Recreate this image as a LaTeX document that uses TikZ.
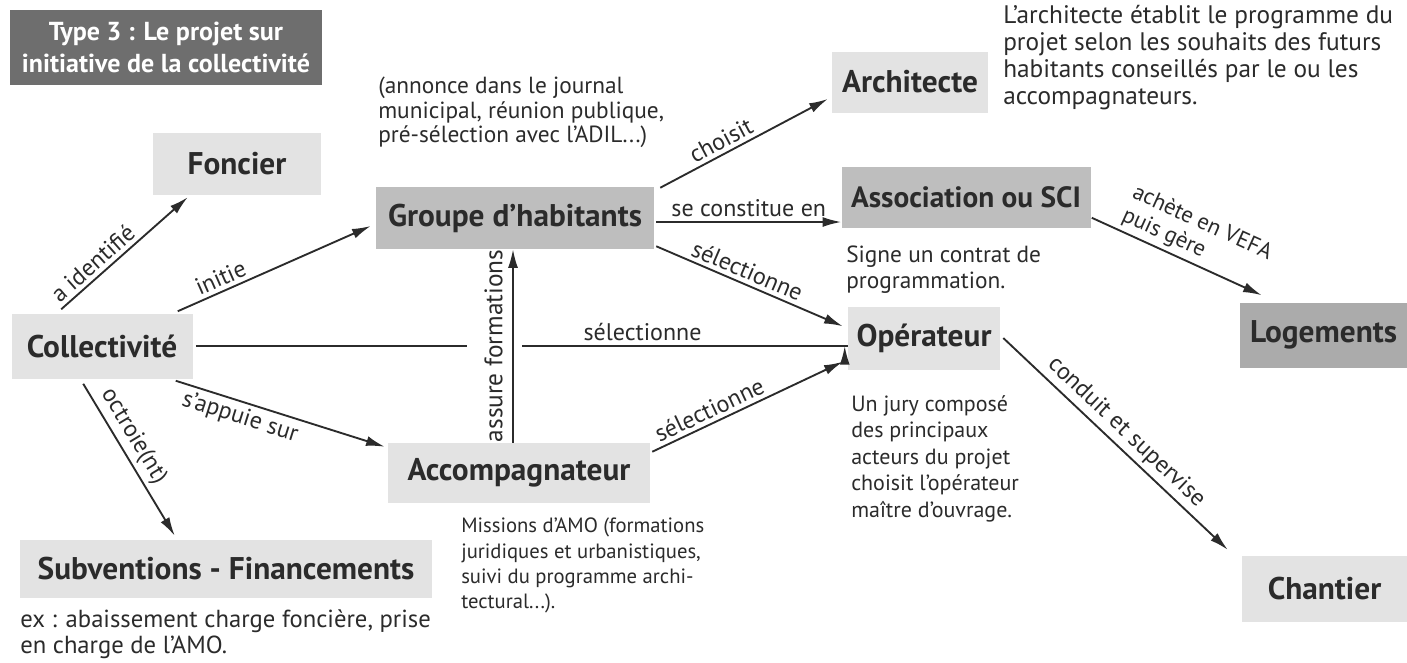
\documentclass[tikz,border=0pt]{standalone}
\usepackage{fontspec}
\setmainfont{PT Sans}
\usetikzlibrary{calc,arrows.meta}
\definecolor{lbox}{HTML}{E3E3E3}
\definecolor{mbox}{HTML}{BEBEBE}
\definecolor{dbox}{HTML}{ABABAB}
\definecolor{tbox}{HTML}{6E6E6E}
\definecolor{ink}{HTML}{2B2B2B}
\begin{document}
\begin{tikzpicture}[x=0.75pt,y=-0.75pt,
  box/.style={fill=lbox, text=ink, font=\bfseries\fontsize{23.5}{28}\selectfont, inner sep=0pt, anchor=center},
  mbx/.style={box, fill=mbox},
  dbx/.style={box, fill=dbox},
  titlebox/.style={fill=tbox, text=white, font=\bfseries\fontsize{19.5}{24}\selectfont, align=center, inner sep=0pt, minimum width=234pt, minimum height=56.25pt},
  arr/.style={-{Latex[length=14pt,width=7.5pt]}, line width=1.4pt, draw=ink},
  ln/.style={line width=1.4pt, draw=ink},
  lab/.style={font=\fontsize{18}{20}\selectfont, text=ink, sloped, inner sep=3pt},
  note/.style={text=ink, align=left, anchor=north west, inner sep=0pt}]
\useasboundingbox (0,0) rectangle (1407,662);
\fill[white] (0,0) rectangle (1407,662);

% boxes
\node[titlebox] (title) at (166,47) {Type 3 : Le projet sur\\initiative de la collectivité};
\node[box, minimum width=126pt, minimum height=46.5pt] (foncier) at (237,164) {Foncier};
\node[box, minimum width=135.75pt, minimum height=48.75pt] (coll) at (102,346) {Collectivité};
\node[box, minimum width=309pt, minimum height=43.5pt] (subv) at (226,569) {Subventions - Financements};
\node[mbx, minimum width=208.5pt, minimum height=46.5pt] (groupe) at (515,218) {Groupe d’habitants};
\node[box, minimum width=196.5pt, minimum height=45pt] (accomp) at (519,473) {Accompagnateur};
\node[box, minimum width=117pt, minimum height=45.75pt] (archi) at (910,82) {Architecte};
\node[mbx, minimum width=186.75pt, minimum height=45.75pt, font=\bfseries\fontsize{22}{26}\selectfont] (asso) at (966,197) {Association ou SCI};
\node[box, minimum width=114pt, minimum height=47.25pt] (oper) at (924,338) {Opérateur};
\node[dbx, minimum width=125.25pt, minimum height=48.75pt] (logem) at (1323.5,335) {Logements};
\node[box, minimum width=123.75pt, minimum height=49.5pt] (chant) at (1324.5,589) {Chantier};

% notes
\node[note, font=\fontsize{17.5}{18.4}\selectfont] (n1) at (378,77) {(annonce dans le journal\\municipal, réunion publique,\\pré-sélection avec l’ADIL...)};
\node[note, font=\fontsize{19}{20.25}\selectfont] (n2) at (1003,5) {L’architecte établit le programme du\\projet selon les souhaits des futurs\\habitants conseillés par le ou les\\accompagnateurs.};
\node[note, font=\fontsize{17.5}{19.5}\selectfont] (n3) at (846,246) {Signe un contrat de\\programmation.};
\node[note, font=\fontsize{16.5}{19.9}\selectfont] (n4) at (851,395) {Un jury composé\\des principaux\\acteurs du projet\\choisit l’opérateur\\maître d’ouvrage.};
\node[note, font=\fontsize{15.5}{19}\selectfont] (n5) at (461,518) {Missions d’AMO (formations\\juridiques et urbanistiques,\\suivi du programme archi-\\tectural...).};
\node[note, font=\fontsize{18.5}{19.5}\selectfont] (n6) at (20,609) {ex : abaissement charge foncière, prise\\en charge de l’AMO.};

% connectors from Collectivité
\draw[arr] ($(coll.north west)+(50,-4)$) -- node[lab, above, pos=0.32] {a identifié} ($(foncier.south west)+(35,2)$);
\draw[arr] ($(coll.north east)+(-15,-2)$) -- node[lab, above, pos=0.25] {initie} ($(groupe.west)+(-5,8)$);
\coordinate (gapL) at (467,346);
\coordinate (gapR) at (522,346);
\draw[ln] (coll.east) ++(3,0) -- (gapL);
\draw[arr] (gapR) -- node[lab, above, pos=0.37] {sélectionne} (gapR -| oper.west) ++(-3,0);
\draw[arr] ($(coll.south east)+(-17,2)$) -- node[lab, below, pos=0.33] {s’appuie sur} ($(accomp.north west)+(-3,4)$);
\draw[arr] ($(coll.south west)+(72,5)$) -- node[lab, above, pos=0.4] {octroie(nt)} ($(subv.north west)+(155,-4)$);

% Accompagnateur
\coordinate (vx) at ($(accomp.north)+(-6,0)$);
\draw[arr] (vx) -- node[lab, above=4pt, pos=0.5, font=\fontsize{19}{21}\selectfont] {assure formations} (vx |- groupe.south);
\draw[arr] ($(accomp.north east)+(2,9)$) -- node[lab, above, pos=0.33] {sélectionne} ($(oper.south west)+(-5,-8)$);

% Groupe d'habitants
\draw[arr] ($(groupe.north east)+(6,1)$) -- node[lab, above, pos=0.4] {choisit} ($(archi.west)+(-4,17)$);
\coordinate (gs) at ($(groupe.east)+(2,4)$);
\draw[arr] (gs) -- node[lab, above, pos=0.5] {se constitue en} (gs -| asso.west);
\draw[arr] ($(groupe.south east)+(2,-3)$) -- node[lab, above, pos=0.46] {sélectionne} ($(oper.north west)+(-5,20)$);

% Association / Opérateur
\draw[arr] ($(asso.south east)+(1,-10)$) -- node[lab, above, pos=0.55, align=left, font=\fontsize{17}{19}\selectfont] {achète en VEFA\\puis gère} ($(logem.north west)+(22,-7)$);
\draw[arr] ($(oper.east)+(3,0)$) -- node[lab, above, pos=0.5] {conduit et supervise} ($(chant.north west)+(-14,-6)$);
\end{tikzpicture}
\end{document}
